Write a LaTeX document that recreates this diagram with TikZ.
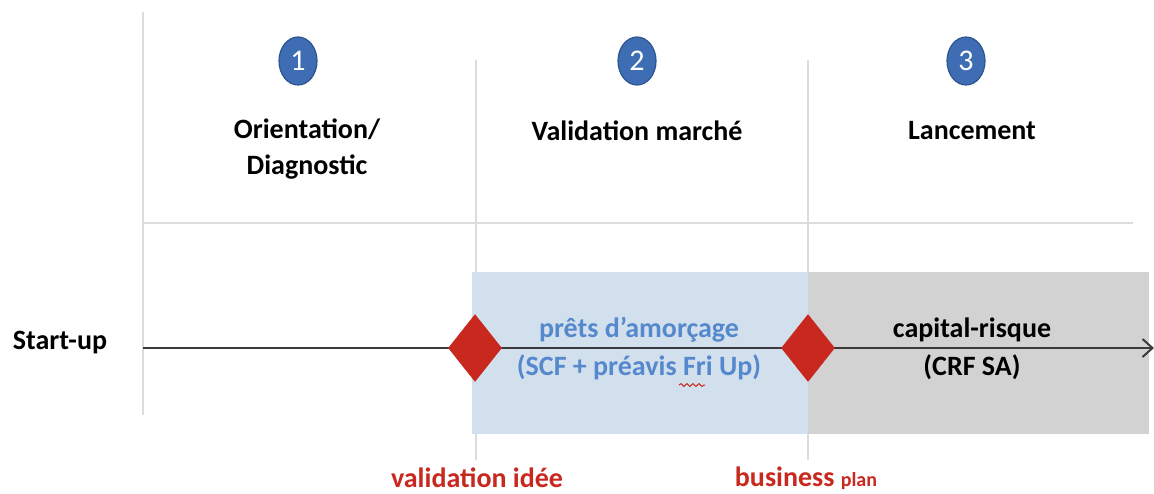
\documentclass[tikz,border=0pt]{standalone}
\usepackage{fontspec}
\setmainfont{Carlito}
\usetikzlibrary{arrows.meta,positioning,shapes.geometric,decorations.pathmorphing}

\definecolor{gridgray}{HTML}{DCDCDC}
\definecolor{etapeblue}{HTML}{3E6DB3}
\definecolor{etapeedge}{HTML}{2D5590}
\definecolor{pretsfill}{HTML}{D2E0EE}
\definecolor{capfill}{HTML}{D2D2D2}
\definecolor{pretstext}{HTML}{5588CC}
\definecolor{jalonred}{HTML}{C8281E}
\definecolor{linegray}{HTML}{3A3A3A}

\tikzset{
  grille/.style={draw=gridgray, line width=1pt},
  etape/.style={ellipse, fill=etapeblue, draw=etapeedge, line width=0.6pt,
    minimum width=19pt, minimum height=24pt, inner sep=0pt, text=white,
    font=\fontsize{15}{16}\selectfont},
  titre/.style={font=\bfseries\fontsize{14}{18}\selectfont, align=center},
  jalon/.style={diamond, fill=jalonred, minimum width=27pt, minimum height=34pt,
    inner sep=0pt},
  jalontxt/.style={text=jalonred, font=\bfseries\fontsize{14}{16}\selectfont},
  phase/.style={font=\bfseries\fontsize{14}{19}\selectfont, align=center}
}

\begin{document}
\begin{tikzpicture}[x=0.5pt, y=-0.5pt]
  \useasboundingbox (0,0) rectangle (1154,493);

  % Grille des phases
  \draw[grille] (143,12) -- (143,415);
  \draw[grille] (476,60) -- (476,460);
  \draw[grille] (808,60) -- (808,460);
  \draw[grille] (143,223) -- (1133,223);

  % Zones de financement
  \fill[pretsfill] (472,272) rectangle (808,434);
  \fill[capfill] (808,272) rectangle (1149,434);

  % Numeros des etapes
  \node[etape] (n1) at (298,61) {1};
  \node[etape] (n2) at (637,61) {2};
  \node[etape] (n3) at (966,61) {3};

  % Titres des etapes
  \node[titre] (t1) at (307,149) {Orientation/\\Diagnostic};
  \node[titre] (t2) at (637,131) {Validation marché};
  \node[titre] (t3) at (972,131) {Lancement};

  % Ligne du temps
  \node[font=\bfseries\fontsize{14}{16}\selectfont] (startup) at (60,343) {Start-up};
  \coordinate (tdebut) at (143,348);
  \coordinate (tfin) at (1154,348);
  \draw[linegray, line width=1pt, -{Straight Barb[length=5pt, width=9pt]}] (tdebut) -- (tfin);

  % Jalons
  \node[jalon] (j1) at (475,348) {};
  \node[jalon] (j2) at (808,348) {};

  % Textes des financements
  \node[phase, text=pretstext] (prets) at (639,349)
    {prêts d’amorçage\\(SCF + préavis Fri Up)};
  \draw[jalonred, line width=0.5pt, decorate,
    decoration={snake, amplitude=0.7pt, segment length=3pt}]
    ([xshift=20pt, yshift=-18pt]prets.center) -- ([xshift=33pt, yshift=-18pt]prets.center);
  \node[phase] (capital) at (972,349) {capital-risque\\(CRF SA)};

  % Libelles des jalons
  \node[jalontxt] (v1) at (477,478) {validation idée};
  \node[jalontxt] (v2) at (806,478) {business {\fontsize{10}{12}\selectfont plan}};
\end{tikzpicture}
\end{document}
